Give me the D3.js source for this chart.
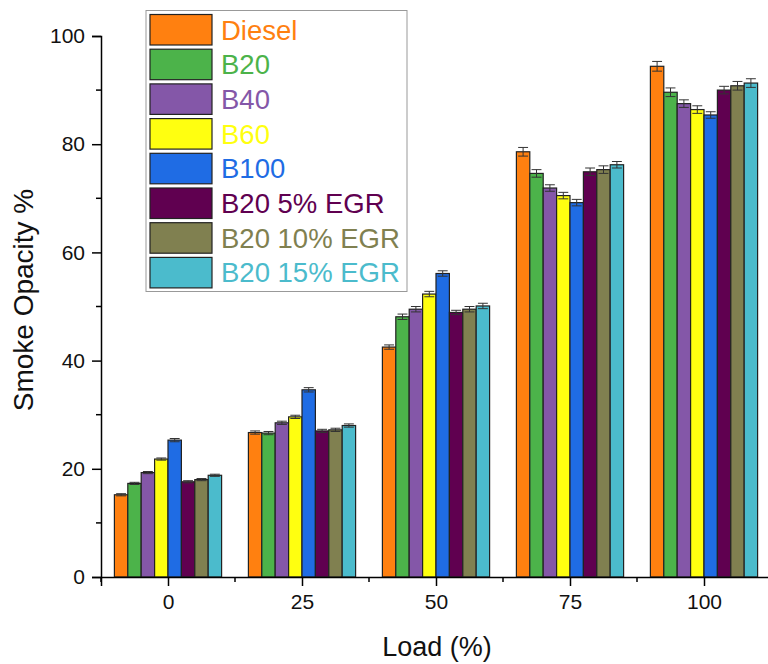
<!DOCTYPE html>
<html>
<head>
<meta charset="utf-8">
<script src="https://cdn.jsdelivr.net/npm/d3@7"></script>
<style>
  html, body { margin: 0; padding: 0; background: #fff; }
  svg { display: block; font-family: Arial, "Liberation Sans", sans-serif; }
</style>
</head>
<body>
<svg id="chart" width="768" height="664"></svg>
<script>
// Engine load steps (%)
const loads = [0, 25, 50, 75, 100];

// Fuel / EGR configurations
const series = ["Diesel", "B20", "B40", "B60", "B100", "B20 5% EGR", "B20 10% EGR", "B20 15% EGR"];
const colors = ["#FF8010", "#4CB34A", "#8457A8", "#FFFF10", "#1F6CE4", "#600050", "#808050", "#4BBBCC"];

// Smoke opacity (%) per series, one value per load step
const diesel   = [15.2, 26.7, 42.5, 78.6, 94.4];
const b20      = [17.3, 26.6, 48.1, 74.6, 89.6];
const b40      = [19.3, 28.5, 49.5, 71.9, 87.5];
const b60      = [21.8, 29.6, 52.3, 70.5, 86.4];
const b100     = [25.3, 34.6, 56.1, 69.2, 85.4];
const b20egr5  = [17.6, 27.0, 48.9, 74.9, 90.0];
const b20egr10 = [18.0, 27.2, 49.5, 75.3, 90.8];
const b20egr15 = [18.8, 28.0, 50.1, 76.2, 91.3];

// Standard deviation for each bar
const errDiesel   = [0.2, 0.3, 0.4, 0.8, 0.9];
const errB20      = [0.2, 0.3, 0.5, 0.7, 0.8];
const errB40      = [0.2, 0.3, 0.5, 0.6, 0.7];
const errB60      = [0.2, 0.3, 0.5, 0.6, 0.7];
const errB100     = [0.3, 0.4, 0.5, 0.6, 0.6];
const errB20egr5  = [0.2, 0.3, 0.4, 0.7, 0.7];
const errB20egr10 = [0.2, 0.3, 0.5, 0.7, 0.8];
const errB20egr15 = [0.2, 0.3, 0.5, 0.6, 0.8];

const yTicks = [0, 20, 40, 60, 80, 100];

const values = [diesel, b20, b40, b60, b100, b20egr5, b20egr10, b20egr15];
const errors = [errDiesel, errB20, errB40, errB60, errB100, errB20egr5, errB20egr10, errB20egr15];

const svg = d3.select("#chart");

const x = d3.scaleLinear().domain([-12.5, 112.5]).range([101, 771]);
const y = d3.scaleLinear().domain([0, 100]).range([577, 36]);

const barUnits = 2.5; // width of one bar in load units
const barW = x(barUnits) - x(0);

const rows = [];
series.forEach((s, i) => {
  loads.forEach((l, j) => {
    rows.push({ s, i, load: l, v: values[i][j], e: errors[i][j] });
  });
});

// Bars
const bars = svg.append("g");
bars.selectAll("rect").data(rows).join("rect")
  .attr("x", d => x(d.load + (d.i - 4) * barUnits))
  .attr("y", d => y(d.v))
  .attr("width", barW)
  .attr("height", d => y(0) - y(d.v))
  .attr("fill", d => colors[d.i])
  .attr("stroke", "#222")
  .attr("stroke-width", 1.2);

// Error bars
const capHalf = barW * 0.37;
const eg = svg.append("g").attr("stroke", "#333").attr("stroke-width", 1);
rows.forEach(d => {
  const cx = x(d.load + (d.i - 3.5) * barUnits);
  eg.append("line").attr("x1", cx).attr("x2", cx).attr("y1", y(d.v + d.e)).attr("y2", y(d.v - d.e));
  eg.append("line").attr("x1", cx - capHalf).attr("x2", cx + capHalf).attr("y1", y(d.v + d.e)).attr("y2", y(d.v + d.e));
  eg.append("line").attr("x1", cx - capHalf).attr("x2", cx + capHalf).attr("y1", y(d.v - d.e)).attr("y2", y(d.v - d.e));
});

// Y axis
const yAxis = svg.append("g").attr("transform", `translate(${x(-12.5)},0)`)
  .call(d3.axisLeft(y).tickValues(yTicks).tickSize(9).tickPadding(7));
yAxis.append("g").selectAll("line").data(d3.range(10, 100, 20)).join("line")
  .attr("x1", -5).attr("x2", 0).attr("y1", d => y(d)).attr("y2", d => y(d))
  .attr("stroke", "#000").attr("stroke-width", 1.5);

// X axis
const xAxis = svg.append("g").attr("transform", `translate(0,${y(0)})`)
  .call(d3.axisBottom(x).tickValues(loads).tickSize(9).tickPadding(8).tickFormat(d3.format("d")));
xAxis.append("g").selectAll("line").data([-12.5, 12.5, 37.5, 62.5, 87.5]).join("line")
  .attr("x1", d => x(d)).attr("x2", d => x(d)).attr("y1", 0).attr("y2", 5)
  .attr("stroke", "#000").attr("stroke-width", 1.5);

[yAxis, xAxis].forEach(a => {
  a.attr("font-family", null).attr("font-size", null);
  a.select(".domain").attr("stroke", "#000").attr("stroke-width", 1.5);
  a.selectAll(".tick line").attr("stroke", "#000").attr("stroke-width", 1.5);
  a.selectAll(".tick text").attr("font-size", 21).attr("fill", "#111");
});

// Axis titles
svg.append("text")
  .attr("x", 437).attr("y", 656)
  .attr("text-anchor", "middle")
  .attr("font-size", 27).attr("fill", "#111")
  .text("Load (%)");

svg.append("text")
  .attr("transform", "translate(33,300) rotate(-90)")
  .attr("text-anchor", "middle")
  .attr("font-size", 28).attr("fill", "#111")
  .text("Smoke Opacity %");

// Legend
const lg = svg.append("g");
lg.append("rect")
  .attr("x", 146).attr("y", 10.5).attr("width", 261).attr("height", 281)
  .attr("fill", "#fff").attr("stroke", "#999").attr("stroke-width", 1);
const pitch = 34.7;
series.forEach((s, i) => {
  const top = 14.5 + i * pitch;
  lg.append("rect")
    .attr("x", 150).attr("y", top).attr("width", 62).attr("height", 30.5)
    .attr("fill", colors[i]).attr("stroke", "#222").attr("stroke-width", 1.2);
  lg.append("text")
    .attr("x", 221).attr("y", top + 25)
    .attr("font-size", 27.5).attr("fill", colors[i])
    .text(s);
});
</script>
</body>
</html>
